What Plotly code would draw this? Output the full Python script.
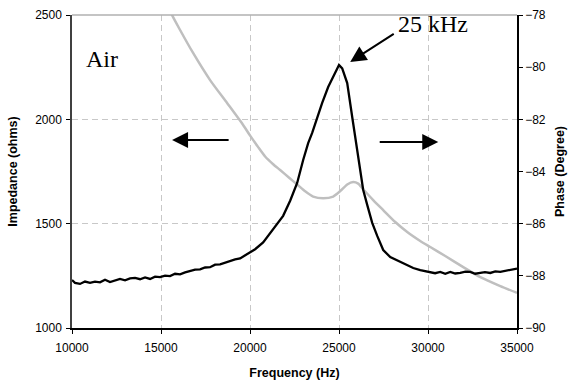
import plotly.graph_objects as go

# Phase (black curve, right axis)
freq_phase = [10000, 10169, 10450, 10731, 11012, 11293, 11574, 11855, 12136, 12417,
              12698, 12980, 13261, 13542, 13823, 14104, 14385, 14666, 14947, 15228,
              15509, 15790, 16072, 16353, 16634, 16915, 17196, 17477, 17758, 18039,
              18320, 18601, 18882, 19164, 19445, 19726, 20007, 20288, 20738, 21300,
              21862, 22256, 22650, 22987, 23268, 23493, 23774, 24055, 24392, 24786,
              25000, 25180, 25461, 25742, 26023, 26360, 26585, 26866, 27147, 27484,
              27878, 28440, 29171, 29564, 30127, 30400, 30689, 30970, 31251, 31530,
              31813, 32100, 32375, 32650, 32937, 33200, 33499, 33780, 34061, 34342,
              34623, 35000]
phase = [-88.16, -88.27, -88.31, -88.22, -88.27, -88.22, -88.25, -88.15, -88.24, -88.18,
         -88.12, -88.17, -88.10, -88.08, -88.13, -88.06, -88.12, -88.03, -88.05, -87.99,
         -88.01, -87.92, -87.94, -87.87, -87.82, -87.76, -87.75, -87.68, -87.67, -87.57,
         -87.56, -87.49, -87.44, -87.37, -87.33, -87.22, -87.12, -86.98, -86.72, -86.22,
         -85.70, -85.12, -84.44, -83.56, -82.91, -82.52, -81.91, -81.37, -80.76, -80.22,
         -79.92, -80.05, -80.61, -81.91, -83.18, -84.71, -85.28, -85.97, -86.47, -87.01,
         -87.28, -87.47, -87.70, -87.78, -87.85, -87.90, -87.85, -87.92, -87.85, -87.91,
         -87.89, -87.84, -87.85, -87.92, -87.89, -87.86, -87.89, -87.83, -87.85, -87.81,
         -87.78, -87.72]

# Impedance (gray curve, left axis)
freq_imp = [15500, 15621, 16072, 16803, 17758, 18714, 19614, 20007, 20450, 20850, 21300,
            21693, 22200, 22650, 23100, 23549, 24111, 24674, 25067, 25461, 25798, 26079,
            26360, 26922, 27484, 28159, 28833, 29564, 30127, 30970, 31982, 32937, 34061,
            35000]
impedance = [2530, 2500, 2428, 2318, 2188, 2078, 1973, 1922, 1868, 1822, 1785,
             1757, 1720, 1688, 1655, 1630, 1622, 1630, 1656, 1688, 1700, 1692,
             1665, 1613, 1565, 1508, 1460, 1417, 1388, 1345, 1292, 1244, 1201,
             1168]

x_ticks = [10000, 15000, 20000, 25000, 30000, 35000]
left_ticks = [1000, 1500, 2000, 2500]
right_ticks = [-90, -88, -86, -84, -82, -80, -78]

FONT = "Arial, Liberation Sans, sans-serif"
SERIF = "Times New Roman, Liberation Serif, serif"

fig = go.Figure()
fig.add_trace(go.Scatter(x=freq_imp, y=impedance, mode="lines",
                         line=dict(color="#bfbfbf", width=2.5, shape="spline", smoothing=0.6),
                         yaxis="y"))
fig.add_trace(go.Scatter(x=freq_phase, y=phase, mode="lines",
                         line=dict(color="#000000", width=2.3), yaxis="y2"))

fig.update_layout(
    width=569, height=385,
    margin=dict(l=72, r=52, t=15, b=57),
    paper_bgcolor="white", plot_bgcolor="white",
    showlegend=False,
    font=dict(family=FONT, size=12, color="black"),
    xaxis=dict(range=[10000, 35000], tickvals=x_ticks, tickformat="d",
               showgrid=True, gridcolor="#c8c8c8", griddash="6px,4px", gridwidth=1,
               ticks="outside", ticklen=4, tickcolor="black", ticklabelstandoff=4,
               showline=True, linecolor="black", linewidth=1.5,
               zeroline=False, automargin=False,
               title=dict(text="<b>Frequency (Hz)</b>", font=dict(size=12.5), standoff=14)),
    yaxis=dict(range=[1000, 2500], tickvals=left_ticks,
               showgrid=True, gridcolor="#c8c8c8", griddash="6px,4px", gridwidth=1,
               ticks="outside", ticklen=4, tickcolor="black", ticklabelstandoff=2,
               showline=True, linecolor="#404040", linewidth=1.5,
               zeroline=False, automargin=False,
               title=dict(text="<b>Impedance (ohms)</b>", font=dict(size=12.5), standoff=15)),
    yaxis2=dict(range=[-90, -78], tickvals=right_ticks, overlaying="y", side="right",
                showgrid=False, ticks="outside", ticklen=4, tickcolor="black",
                showline=True, linecolor="black", linewidth=1.5, zeroline=False,
                automargin=False,
                title=dict(text="<b>Phase (Degree)</b>", font=dict(size=12.5), standoff=10)),
    shapes=[dict(type="line", xref="paper", yref="paper", x0=0, x1=1, y0=1, y1=1,
                 line=dict(color="#b0b0b0", width=1.5))],
)

fig.add_annotation(x=10650, y=2290, xref="x", yref="y", text="Air", showarrow=False,
                   xanchor="left", yanchor="middle",
                   font=dict(family=SERIF, size=24, color="black"))
fig.add_annotation(x=28200, y=2455, xref="x", yref="y", text="25 kHz", showarrow=False,
                   xanchor="left", yanchor="middle",
                   font=dict(family=SERIF, size=24, color="black"))
# arrow to the peak
fig.add_annotation(x=25629, y=2275, xref="x", yref="y", ax=28159, ay=2414,
                   axref="x", ayref="y", text="", showarrow=True,
                   arrowhead=2, arrowsize=1.6, arrowwidth=2, arrowcolor="black")
# left-pointing arrow (impedance -> left axis)
fig.add_annotation(x=15622, y=1901, xref="x", yref="y", ax=18883, ay=1901,
                   axref="x", ayref="y", text="", showarrow=True,
                   arrowhead=2, arrowsize=1.6, arrowwidth=2, arrowcolor="black")
# right-pointing arrow (phase -> right axis)
fig.add_annotation(x=30576, y=1891, xref="x", yref="y", ax=27203, ay=1891,
                   axref="x", ayref="y", text="", showarrow=True,
                   arrowhead=2, arrowsize=1.6, arrowwidth=2, arrowcolor="black")

fig.write_html("out.html")
